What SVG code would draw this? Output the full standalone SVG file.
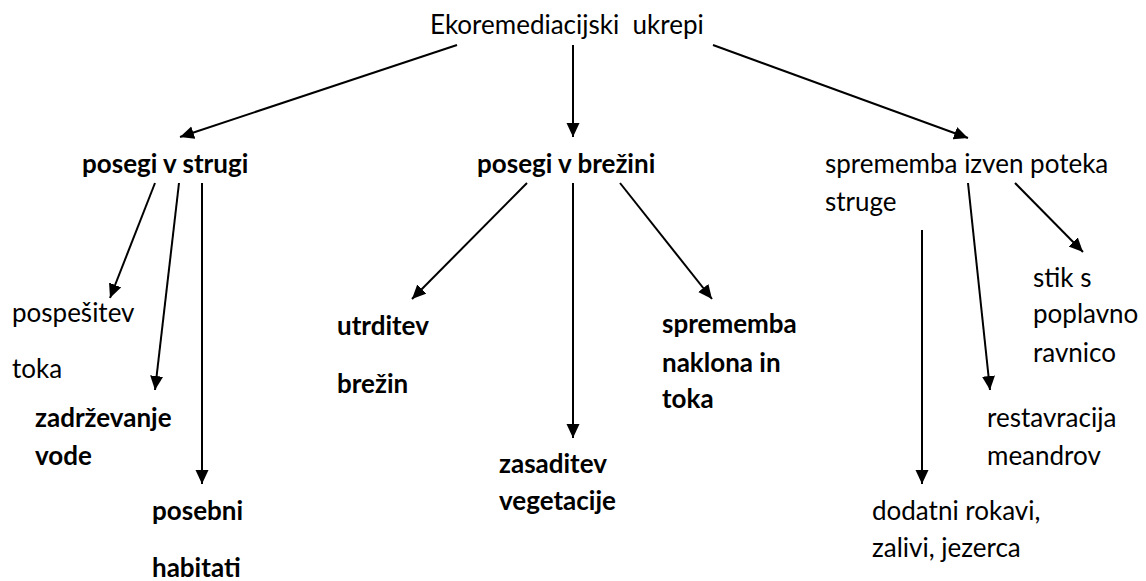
<svg xmlns="http://www.w3.org/2000/svg" width="1146" height="581" viewBox="0 0 1146 581">
<style>
text{font-family:Lato,"Open Sans","Liberation Sans",sans-serif;font-size:26px;fill:#000}
.b{font-weight:700}
.c line{stroke:#000;stroke-width:2;marker-end:url(#ah)}
</style>
<defs>
<marker id="ah" markerUnits="userSpaceOnUse" markerWidth="15" markerHeight="14" refX="14" refY="6.5" orient="auto">
<path d="M0,0 L14,6.5 L0,13 z" fill="#000"/>
</marker>
</defs>
<rect width="1146" height="581" fill="#fff"/>
<g id="connectors" class="c">
<line x1="457" y1="45" x2="180" y2="137"/>
<line x1="573" y1="45" x2="573" y2="137"/>
<line x1="713" y1="45" x2="968" y2="138"/>
<line x1="155" y1="183" x2="110" y2="298"/>
<line x1="179" y1="183" x2="155" y2="390"/>
<line x1="202" y1="183" x2="202" y2="484"/>
<line x1="527" y1="183" x2="412" y2="299"/>
<line x1="573" y1="183" x2="573" y2="438"/>
<line x1="620" y1="183" x2="712" y2="299"/>
<line x1="922" y1="230" x2="922" y2="484"/>
<line x1="968" y1="183" x2="990" y2="390"/>
<line x1="1015" y1="183" x2="1083" y2="252"/>
</g>
<g id="root"><text x="430" y="34" xml:space="preserve">Ekoremediacijski  ukrepi</text></g>
<g id="posegi-v-strugi"><text class="b" x="82" y="173">posegi v strugi</text></g>
<g id="posegi-v-brezini"><text class="b" x="477" y="173">posegi v brežini</text></g>
<g id="sprememba-izven"><text x="825" y="173">sprememba izven poteka</text><text x="825" y="211">struge</text></g>
<g id="pospesitev"><text x="12" y="322">pospešitev</text><text x="12" y="378">toka</text></g>
<g id="zadrzevanje"><text class="b" x="35" y="427">zadrževanje</text><text class="b" x="35" y="465">vode</text></g>
<g id="posebni"><text class="b" x="152" y="520">posebni</text><text class="b" x="152" y="577">habitati</text></g>
<g id="utrditev"><text class="b" x="337" y="335">utrditev</text><text class="b" x="337" y="393">brežin</text></g>
<g id="zasaditev"><text class="b" x="499" y="473">zasaditev</text><text class="b" x="499" y="510">vegetacije</text></g>
<g id="sprememba-naklona"><text class="b" x="662" y="333">sprememba</text><text class="b" x="662" y="372">naklona in</text><text class="b" x="662" y="408">toka</text></g>
<g id="stik"><text x="1033" y="287">stik s</text><text x="1033" y="323">poplavno</text><text x="1033" y="362">ravnico</text></g>
<g id="restavracija"><text x="987" y="427">restavracija</text><text x="987" y="465">meandrov</text></g>
<g id="dodatni"><text x="872" y="520">dodatni rokavi,</text><text x="872" y="557">zalivi, jezerca</text></g>
</svg>
